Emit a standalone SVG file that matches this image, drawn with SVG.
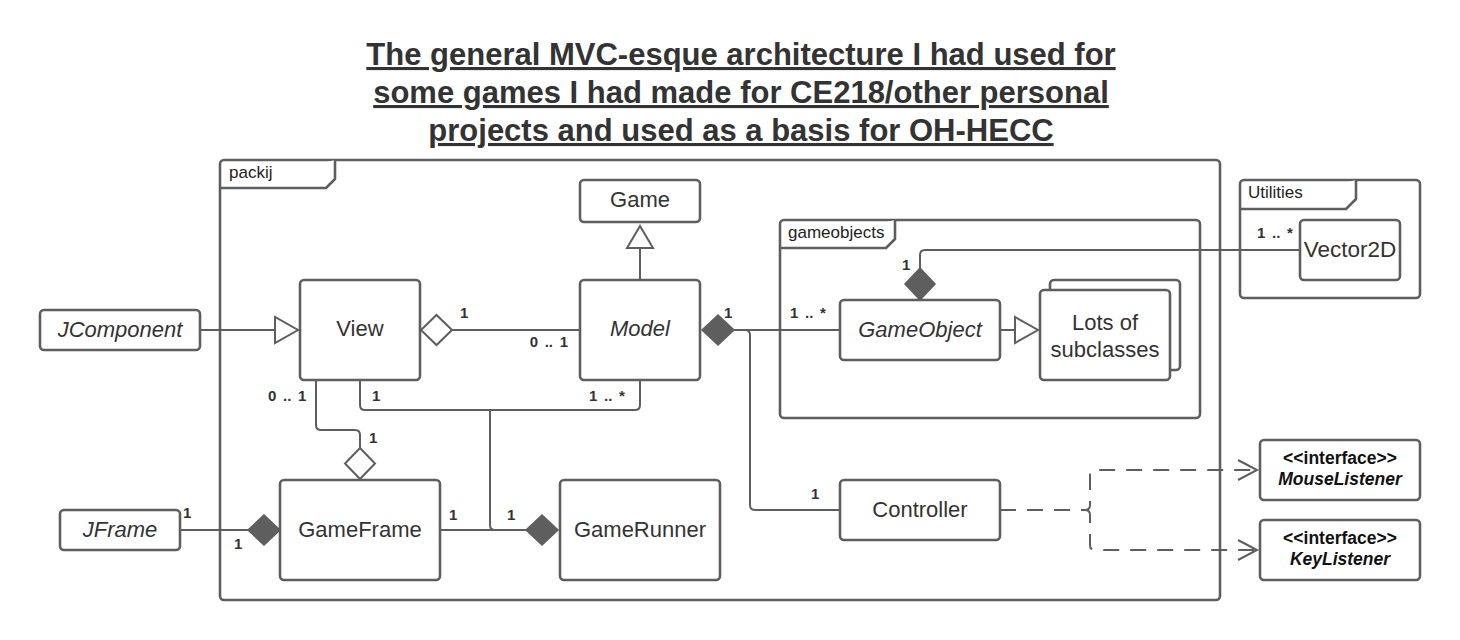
<svg xmlns="http://www.w3.org/2000/svg" width="1460" height="640" viewBox="0 0 1460 640">
<style>
  .box{fill:#ffffff;stroke:#5e5e5e;stroke-width:2.6}
  .frame{fill:none;stroke:#5e5e5e;stroke-width:2.6}
  .tab{fill:#ffffff;stroke:#5e5e5e;stroke-width:2.6;stroke-linejoin:round}
  .ln{fill:none;stroke:#5e5e5e;stroke-width:2}
  .dash{fill:none;stroke:#5e5e5e;stroke-width:2;stroke-dasharray:16 11}
  .open{fill:#ffffff;stroke:#5e5e5e;stroke-width:2}
  .filled{fill:#5e5e5e;stroke:#5e5e5e;stroke-width:1.5}
  .arr{fill:none;stroke:#5e5e5e;stroke-width:2}
  text{font-family:"Liberation Sans",Arial,sans-serif;fill:#333333}
  .t{font-size:22px;text-anchor:middle}
  .i{font-style:italic}
  .tabl{font-size:17px;fill:#222222}
  .m{font-size:15px;font-weight:bold;word-spacing:2.5px}
  .if{font-size:17.5px;font-weight:bold;text-anchor:middle;fill:#111111}
  .title{font-size:31px;font-weight:bold;text-anchor:middle;text-decoration:underline}
</style>
<rect width="1460" height="640" fill="#ffffff"/>

<g id="title">
  <text class="title" x="741" y="65">The general MVC-esque architecture I had used for</text>
  <text class="title" x="741" y="103">some games I had made for CE218/other personal</text>
  <text class="title" x="741" y="141">projects and used as a basis for OH-HECC</text>
</g>

<g id="packij">
  <rect class="frame" x="220" y="160" width="1000" height="440" rx="4"/>
  <path class="tab" d="M220,188 H326 L335,179 V160"/>
  <text class="tabl" x="229" y="178">packij</text>
</g>

<g id="gameobjects">
  <rect class="frame" x="780" y="220" width="420" height="198" rx="4"/>
  <path class="tab" d="M780,248 H886 L895,239 V220"/>
  <text class="tabl" x="788" y="238">gameobjects</text>
</g>

<g id="utilities">
  <rect class="frame" x="1240" y="180" width="180" height="118" rx="4"/>
  <path class="tab" d="M1240,209 H1346 L1356,199 V180"/>
  <text class="tabl" x="1248" y="198">Utilities</text>
</g>

<g id="connectors">
  <!-- JComponent -> View generalization -->
  <path class="ln" d="M200,330 H275"/>
  <polygon class="open" points="275,317 275,343 298,330"/>
  <!-- Model -> Game generalization -->
  <path class="ln" d="M640,280 V248"/>
  <polygon class="open" points="627,248 653,248 640,226"/>
  <!-- View <> Model aggregation -->
  <path class="ln" d="M452,330 H580"/>
  <polygon class="open" points="421,330 436.5,315 452,330 436.5,345"/>
  <!-- View -> GameFrame aggregation -->
  <path class="ln" d="M316,380 V425 Q316,430 321,430 H355 Q360,430 360,435 V448"/>
  <polygon class="open" points="360,448 375,463.5 360,479 345,463.5"/>
  <!-- View & Model -> GameRunner -->
  <path class="ln" d="M360,380 V405 Q360,410 365,410 H635 Q640,410 640,405 V380"/>
  <path class="ln" d="M490,410 V525 Q490,530 495,530 H526"/>
  <path class="ln" d="M440,530 H526"/>
  <polygon class="filled" points="526,530 542,515 558,530 542,545"/>
  <!-- JFrame -> GameFrame composition -->
  <path class="ln" d="M180,530 H248"/>
  <polygon class="filled" points="248,530 264,515 280,530 264,545"/>
  <!-- Model -> GameObject composition -->
  <polygon class="filled" points="702,330 718,315 734,330 718,345"/>
  <path class="ln" d="M734,330 H840"/>
  <!-- Model -> Controller -->
  <path class="ln" d="M745,330 Q750,330 750,335 V505 Q750,510 755,510 H840"/>
  <!-- GameObject -> Vector2D -->
  <polygon class="filled" points="920,300 935,284 920,268 905,284"/>
  <path class="ln" d="M920,268 V255 Q920,250 925,250 H1300"/>
  <!-- GameObject -> Lots of subclasses -->
  <path class="ln" d="M1000,330 H1015"/>
  <polygon class="open" points="1015,317 1015,343 1038,330"/>
  <!-- Controller -> listeners (dependency) -->
  <path class="dash" d="M1000,510 H1085 Q1090,510 1090,505 V475 Q1090,470 1095,470 H1256"/>
  <path class="dash" d="M1085,510 Q1090,510 1090,515 V545 Q1090,550 1095,550 H1256"/>
  <path class="arr" d="M1238,460 L1257,470 L1238,480"/>
  <path class="arr" d="M1238,540 L1257,550 L1238,560"/>
  <!-- multiplicities -->
  <text class="m" x="460" y="318">1</text>
  <text class="m" x="568" y="347" text-anchor="end">0 .. 1</text>
  <text class="m" x="268" y="401">0 .. 1</text>
  <text class="m" x="372" y="401">1</text>
  <text class="m" x="589" y="401">1 .. *</text>
  <text class="m" x="369" y="443">1</text>
  <text class="m" x="183" y="518">1</text>
  <text class="m" x="234" y="549">1</text>
  <text class="m" x="449" y="520">1</text>
  <text class="m" x="507" y="520">1</text>
  <text class="m" x="724" y="318">1</text>
  <text class="m" x="790" y="318">1 .. *</text>
  <text class="m" x="902" y="270">1</text>
  <text class="m" x="1257" y="238">1 .. *</text>
  <text class="m" x="811" y="499">1</text>
</g>

<g id="Game">
  <rect class="box" x="580" y="180" width="120" height="42" rx="4"/>
  <text class="t" x="640" y="207">Game</text>
</g>
<g id="View">
  <rect class="box" x="300" y="280" width="120" height="100" rx="4"/>
  <text class="t" x="360" y="336">View</text>
</g>
<g id="Model">
  <rect class="box" x="580" y="280" width="120" height="100" rx="4"/>
  <text class="t i" x="640" y="336">Model</text>
</g>
<g id="JComponent">
  <rect class="box" x="40" y="310" width="160" height="40" rx="4"/>
  <text class="t i" x="120" y="337">JComponent</text>
</g>
<g id="GameObject">
  <rect class="box" x="840" y="300" width="160" height="60" rx="4"/>
  <text class="t i" x="920" y="337">GameObject</text>
</g>
<g id="LotsOfSubclasses">
  <rect class="box" x="1050" y="280" width="130" height="90" rx="4"/>
  <rect class="box" x="1040" y="290" width="130" height="90" rx="4"/>
  <text class="t" x="1105" y="330">Lots of</text>
  <text class="t" x="1105" y="357">subclasses</text>
</g>
<g id="Vector2D">
  <rect class="box" x="1300" y="220" width="100" height="60" rx="4"/>
  <text class="t" x="1350" y="257" style="font-size:22.5px">Vector2D</text>
</g>
<g id="JFrame">
  <rect class="box" x="60" y="510" width="120" height="40" rx="4"/>
  <text class="t i" x="120" y="537">JFrame</text>
</g>
<g id="GameFrame">
  <rect class="box" x="280" y="480" width="160" height="100" rx="4"/>
  <text class="t" x="360" y="537">GameFrame</text>
</g>
<g id="GameRunner">
  <rect class="box" x="560" y="480" width="160" height="100" rx="4"/>
  <text class="t" x="640" y="537">GameRunner</text>
</g>
<g id="Controller">
  <rect class="box" x="840" y="480" width="160" height="60" rx="4"/>
  <text class="t" x="920" y="517">Controller</text>
</g>
<g id="MouseListener">
  <rect class="box" x="1260" y="440" width="160" height="60" rx="4"/>
  <text class="if" x="1340" y="464">&lt;&lt;interface&gt;&gt;</text>
  <text class="if i" x="1340" y="485">MouseListener</text>
</g>
<g id="KeyListener">
  <rect class="box" x="1260" y="520" width="160" height="60" rx="4"/>
  <text class="if" x="1340" y="544">&lt;&lt;interface&gt;&gt;</text>
  <text class="if i" x="1340" y="565">KeyListener</text>
</g>
</svg>
